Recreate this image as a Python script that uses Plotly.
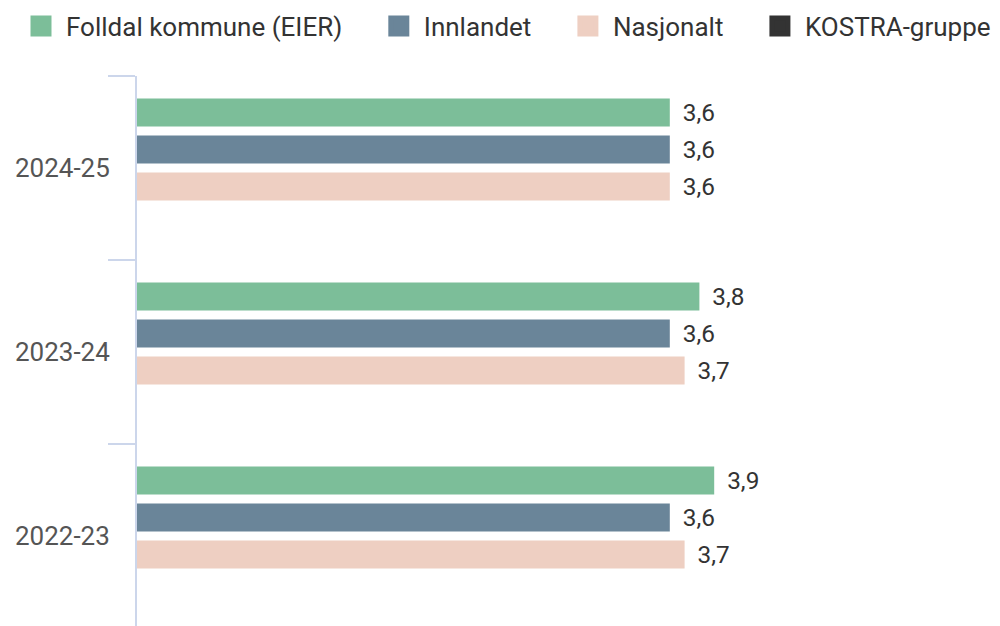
import plotly.graph_objects as go

categories = ["2024-25", "2023-24", "2022-23"]
series_names = ["Folldal kommune (EIER)", "Innlandet", "Nasjonalt", "KOSTRA-gruppe"]
folldal = [3.6, 3.8, 3.9]
innlandet = [3.6, 3.6, 3.6]
nasjonalt = [3.6, 3.7, 3.7]
kostra = [None, None, None]
colors = ["#7cbe99", "#6a8599", "#eecfc2", "#333333"]

values = [folldal, innlandet, nasjonalt, kostra]

W, H = 1000, 626
OFF = 8  # page body margin
plot_left, plot_right = 137 - OFF, 990 - OFF
plot_top, plot_bottom = 76 - OFF, 628 - OFF
px_per_unit = 148.0

fig = go.Figure()
for name, vals, col in zip(series_names, values, colors):
    fig.add_trace(go.Bar(
        x=vals, y=categories, orientation="h", name=name,
        marker=dict(color=col, line=dict(width=0)),
        text=vals, texttemplate="\u2009\u2009%{x:.1f}", textposition="outside",
        textfont=dict(family="Roboto", size=26, color="#333333"),
        cliponaxis=False, showlegend=False, hoverinfo="skip",
    ))
# legend entries
for i, (name, col) in enumerate(zip(series_names, colors)):
    label = name + ("\u2003" if i < len(series_names) - 1 else "")
    fig.add_trace(go.Scatter(
        x=[None], y=[None], mode="markers", name=label,
        marker=dict(symbol="square", size=16, color=col, line=dict(color=col, width=5)),
        showlegend=True,
    ))

fig.update_layout(
    width=W, height=H,
    paper_bgcolor="white", plot_bgcolor="white",
    margin=dict(l=0, r=0, t=0, b=0, autoexpand=False),
    barmode="group", bargap=0.196, bargroupgap=0.24,
    separators=", ",
    font=dict(family="Roboto", color="#333333"),
    legend=dict(
        orientation="h", xref="paper", yref="paper",
        x=0.008, xanchor="left",
        y=1 - 18 / H, yanchor="middle",
        itemwidth=40,
        font=dict(family="Roboto", size=26, color="#333333"),
        itemclick=False, itemdoubleclick=False,
    ),
    xaxis=dict(visible=False, domain=[plot_left / W, plot_right / W],
               range=[0, (plot_right - plot_left) / px_per_unit],
               showgrid=False, zeroline=False),
    yaxis=dict(
        domain=[1 - plot_bottom / H, 1 - plot_top / H],
        type="category", categoryorder="array", categoryarray=categories,
        autorange="reversed", automargin=False,
        showline=True, linecolor="#ccd6eb", linewidth=2,
        ticks="outside", ticklen=27, tickwidth=2, tickcolor="#ccd6eb",
        tickson="boundaries", showgrid=False, zeroline=False,
        ticklabelstandoff=20,
        tickfont=dict(family="Roboto", size=26, color="#555555"),
    ),
)

fig.write_html("out.html")
